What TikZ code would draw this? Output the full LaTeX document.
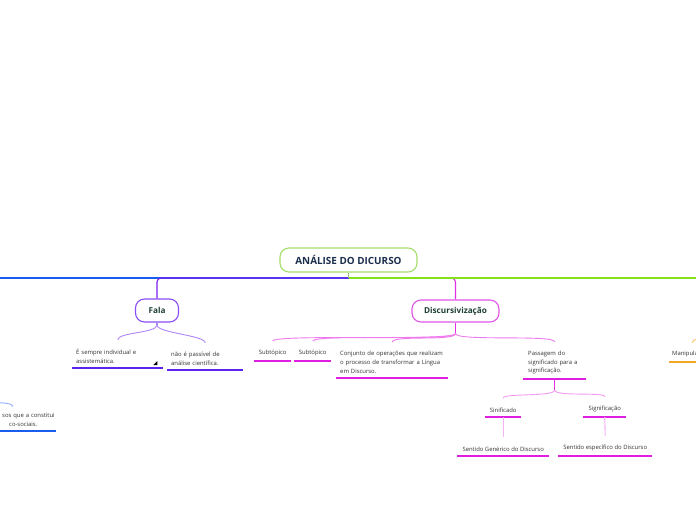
\documentclass[tikz,border=0pt]{standalone}
\usepackage{fontspec}
\setmainfont{Open Sans}
\usetikzlibrary{calc}
\definecolor{titleg}{HTML}{A5DD6A}
\definecolor{grn}{HTML}{84E21C}
\definecolor{purp}{HTML}{7A1FF2}
\definecolor{blu}{HTML}{1B5CF0}
\definecolor{falab}{HTML}{8A4DF5}
\definecolor{purpc}{HTML}{AD85F7}
\definecolor{purpu}{HTML}{5C22F0}
\definecolor{mag}{HTML}{E22FE6}
\definecolor{discb}{HTML}{E055E8}
\definecolor{magc}{HTML}{EE7AEE}
\definecolor{magu}{HTML}{E01EE0}
\definecolor{pinkc}{HTML}{F29AF2}
\definecolor{pinkv}{HTML}{F5B5F5}
\definecolor{orng}{HTML}{F5A623}
\definecolor{topictxt}{HTML}{1F4036}
\definecolor{titletxt}{HTML}{1A2E4B}
\definecolor{txt}{HTML}{333333}
\begin{document}
\begin{tikzpicture}[x=1pt,y=-1pt,
  sm/.style={font=\fontsize{5.9}{8.7}\selectfont, text=txt},
  topicbox/.style={draw, line width=1.1pt, rounded corners=9pt, fill=white,
    font=\fontsize{8.2}{10}\selectfont\bfseries, text=topictxt, inner sep=0pt},
  leaf/.style={sm, inner xsep=4pt, inner ysep=4.5pt, align=left, anchor=south west},
  cleaf/.style={sm, inner xsep=0pt, inner ysep=4.5pt, align=center, anchor=south west},
  ul/.style={line width=1.3pt},
  ln/.style={line width=1.1pt},
  cv/.style={line width=0.9pt}]
\useasboundingbox (0,0) rectangle (696,520);
\clip (0,0) rectangle (696,520);

% main nodes
\node[topicbox, draw=titleg, text=titletxt, minimum width=137pt, minimum height=24pt, font=\fontsize{9.9}{11}\selectfont\bfseries] (title) at (348.5,260) {ANÁLISE DO DICURSO};
\node[topicbox, draw=falab, minimum width=43pt, minimum height=23pt] (fala) at (157,310.5) {Fala};
\node[topicbox, draw=discb, minimum width=87pt, minimum height=22pt] (disc) at (455.5,311) {Discursivização};

% hub coordinates
\coordinate (hub) at (title.south |- 0,278);
\coordinate (offL) at (-10,278);
\coordinate (offR) at (710,278);
\coordinate (offB) at (-10,403);
\coordinate (offO) at (712,338);

% leaves under Fala
\node[leaf, text width=83pt] (f1) at (72,368) {É sempre individual e\\assistemática.};
\node[leaf, text width=68pt] (f2) at (167,370) {não é passível de\\análise científica.};
% leaf under blue branch (partly off the page)
\node[leaf, text width=110pt] (lb) at (-30,431) {\hspace*{28pt}sos que a constitui\\\hspace*{35pt}co-sociais.};
% leaves under Discursivizacao
\node[cleaf, minimum width=37pt] (s1) at (254,361) {Subtópico};
\node[cleaf, minimum width=37pt] (s2) at (294,361) {Subtópico};
\node[leaf, text width=104pt] (conj) at (336,378) {Conjunto de operações que realizam\\o processo de transformar a Língua\\em Discurso.};
\node[leaf, inner xsep=5pt, text width=53pt] (pass) at (523,379) {Passagem do\\significado para a\\significação.};
\node[cleaf, minimum width=36pt] (sin) at (485,417) {Sinificado};
\node[cleaf, minimum width=43pt] (sig) at (583,417) {Significação};
\node[cleaf, minimum width=92pt] (sg) at (457,456) {Sentido Genérico do Discurso};
\node[cleaf, minimum width=94pt] (se) at (558,456) {Sentido específico do Discurso};
% leaf at right edge
\node[leaf, inner xsep=3pt, text width=40pt] (man) at (669,362) {Manipulação};

% branch lines
\draw[ln, blu] (hub) -- (offL);
\draw[ln, mag, rounded corners=4pt] (hub) -| (disc.north);
\draw[ln, grn] (hub) -- (offR);
\draw[ln, purp, rounded corners=4pt] (hub) -| (fala.north);
\draw[ln, titleg!60!gray] (title.south) -- (hub);

% Fala children
\draw[ln, purpc] (fala.south) -- ++(0,2.5) coordinate (fj);
\draw[cv, purpc] (fj) .. controls ++(0,8) and ($(f1.north)+(0,-12)$) .. ($(f1.north)+(0,-4.5)$);
\draw[cv, purpc] (fj) .. controls ++(0,8) and ($(f2.north)+(0,-12)$) .. ($(f2.north)+(0,-4.5)$);
\draw[ul, purpu] (f1.south west) -- (f1.south east);
\draw[ul, purpu] (f2.south west) -- (f2.south east);
\fill[black] ($(f1.south east)+(-10,-3)$) -- ++(4,0) -- ++(0,-4) -- cycle;

% blue child
\coordinate (lbtop) at ($(lb.north west)+(43,-2)$);
\draw[cv, blu!50] (offB) .. controls ++(12,-1) and ($(lbtop)+(0,-3)$) .. (lbtop);
\draw[ul, blu] (lb.south west) -- ($(lb.south west)+(86,0)$);

% Discursivizacao children
\draw[ln, mag] (disc.south) -- ++(0,11) coordinate (dj);
\foreach \n in {s1,s2,conj,pass}{
  \draw[cv, magc] (dj) .. controls ++(0,8) and ($(\n.north)+(0,-12)$) .. ($(\n.north)+(0,-4.5)$);
}
\draw[ul, magu] (s1.south west) -- (s1.south east);
\draw[ul, magu] (s2.south west) -- (s2.south east);
\draw[ul, magu] (conj.south west) -- (conj.south east);
\draw[ul, magu] (pass.south west) -- (pass.south east);

% Passagem children
\draw[ln, mag] ($(pass.south west)!0.5!(pass.south east)$) coordinate (pb) -- ++(0,11) coordinate (pj);
\draw[cv, pinkc] (pj) .. controls ++(0,7) and ($(sin.north)+(0,-10)$) .. ($(sin.north)+(0,-5)$);
\draw[cv, pinkc] (pj) .. controls ++(0,7) and ($(sig.north)+(0,-10)$) .. ($(sig.north)+(0,-5)$);
\draw[ul, magu] (sin.south west) -- (sin.south east);
\draw[ul, magu] (sig.south west) -- (sig.south east);

% Sinificado / Significacao children
\draw[ln, pinkv] (sin.south) -- ($(sg.north)+(0,-5)$);
\draw[ln, pinkv] (sig.south) -- ($(se.north)+(0,-5)$);
\draw[ul, magu] (sg.south west) -- (sg.south east);
\draw[ul, magu] (se.south west) -- (se.south east);

% orange child at right edge
\draw[cv, orng!70] ($(man.north)+(0,-4)$) .. controls ++(0,-5) and ++(-10,2) .. (offO);
\draw[ul, orng] (man.south west) -- (man.south east);
\end{tikzpicture}
\end{document}
